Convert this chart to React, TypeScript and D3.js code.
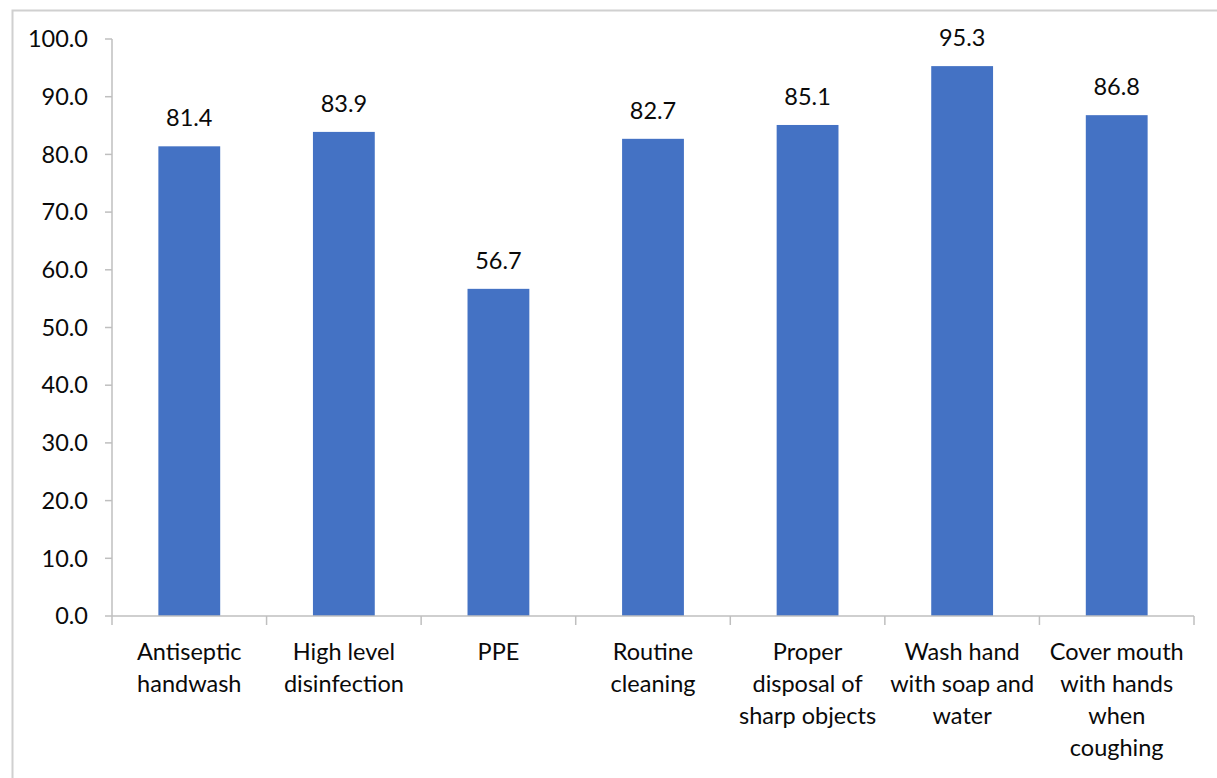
import * as d3 from 'd3';
import React, { useEffect, useRef } from 'react';

const categories = [
	'Antiseptic handwash',
	'High level disinfection',
	'PPE',
	'Routine cleaning',
	'Proper disposal of sharp objects',
	'Wash hand with soap and water',
	'Cover mouth with hands when coughing',
];
const categoryLines = [
	['Antiseptic', 'handwash'],
	['High level', 'disinfection'],
	['PPE'],
	['Routine', 'cleaning'],
	['Proper', 'disposal of', 'sharp objects'],
	['Wash hand', 'with soap and', 'water'],
	['Cover mouth', 'with hands', 'when', 'coughing'],
];
const values = [81.4, 83.9, 56.7, 82.7, 85.1, 95.3, 86.8];
const yTicks = [0, 10, 20, 30, 40, 50, 60, 70, 80, 90, 100];

const App = () => {
	const ref = useRef<SVGSVGElement>(null);
	const width = 1217;
	const height = 778;
	const margin = { top: 39, right: 23, bottom: 162, left: 112 };
	const font = 'Lato, "Open Sans", sans-serif';

	useEffect(() => {
		const svg = d3.select(ref.current);
		svg.selectAll('*').remove();

		const x: any = d3
			.scaleBand()
			.domain(categories)
			.range([margin.left, width - margin.right])
			.paddingInner(0.6)
			.paddingOuter(0.3);
		const y = d3
			.scaleLinear()
			.domain([0, 100])
			.range([height - margin.bottom, margin.top]);

		// outer frame
		svg.append('rect')
			.attr('x', 12.5)
			.attr('y', 10.5)
			.attr('width', width + 20)
			.attr('height', height + 20)
			.attr('fill', 'none')
			.attr('stroke', '#d0d0d0')
			.attr('stroke-width', 2);

		// y axis
		const yAxis = svg.append('g').attr('transform', `translate(${margin.left},0)`);
		yAxis.append('line')
			.attr('x1', 0)
			.attr('x2', 0)
			.attr('y1', y(100))
			.attr('y2', y(0))
			.attr('stroke', '#bfbfbf')
			.attr('stroke-width', 1.5);
		yAxis.selectAll('.tick')
			.data(yTicks)
			.join('g')
			.attr('transform', (d: number) => `translate(0,${y(d)})`)
			.call((g: any) => {
				g.append('line').attr('x1', -7).attr('x2', 0).attr('stroke', '#bfbfbf').attr('stroke-width', 1.5);
				g.append('text')
					.attr('x', -24)
					.attr('dy', '0.35em')
					.attr('text-anchor', 'end')
					.attr('font-family', font)
					.attr('font-size', 23.5)
					.attr('fill', '#0a0a0a')
					.text((d: number) => d.toFixed(1));
			});

		// bars
		svg.append('g')
			.selectAll('rect')
			.data(values)
			.join('rect')
			.attr('x', (d: number, i: number) => x(categories[i]))
			.attr('y', (d: number) => y(d))
			.attr('width', x.bandwidth())
			.attr('height', (d: number) => y(0) - y(d))
			.attr('fill', '#4472c4');

		// value labels
		svg.append('g')
			.selectAll('text')
			.data(values)
			.join('text')
			.attr('x', (d: number, i: number) => x(categories[i]) + x.bandwidth() / 2)
			.attr('y', (d: number) => y(d) - 20)
			.attr('text-anchor', 'middle')
			.attr('font-family', font)
			.attr('font-size', 23.5)
			.attr('fill', '#0a0a0a')
			.text((d: number) => d.toFixed(1));

		// x axis
		const step = x.step();
		const x0 = margin.left;
		const xAxis = svg.append('g').attr('transform', `translate(0,${y(0)})`);
		xAxis.append('line')
			.attr('x1', x0)
			.attr('x2', width - margin.right)
			.attr('stroke', '#bfbfbf')
			.attr('stroke-width', 1.5);
		xAxis.selectAll('.tk')
			.data(d3.range(categories.length + 1))
			.join('line')
			.attr('x1', (i: number) => x0 + i * step)
			.attr('x2', (i: number) => x0 + i * step)
			.attr('y1', 0)
			.attr('y2', 9)
			.attr('stroke', '#bfbfbf')
			.attr('stroke-width', 1.5);

		xAxis.selectAll('.lbl')
			.data(categoryLines)
			.join('text')
			.attr('text-anchor', 'middle')
			.attr('font-family', font)
			.attr('font-size', 23.5)
			.attr('fill', '#0a0a0a')
			.attr('transform', (d: string[], i: number) => `translate(${x(categories[i]) + x.bandwidth() / 2},44)`)
			.each(function (this: any, d: string[]) {
				d3.select(this)
					.selectAll('tspan')
					.data(d)
					.join('tspan')
					.attr('x', 0)
					.attr('y', (s: string, j: number) => j * 32)
					.text((s: string) => s);
			});
	}, []);

	return (
		<div style={{ position: 'fixed', left: 0, top: 0, width, height, background: '#fff' }}>
			<svg ref={ref} width={width} height={height} style={{ display: 'block' }} />
		</div>
	);
};

export default App;
